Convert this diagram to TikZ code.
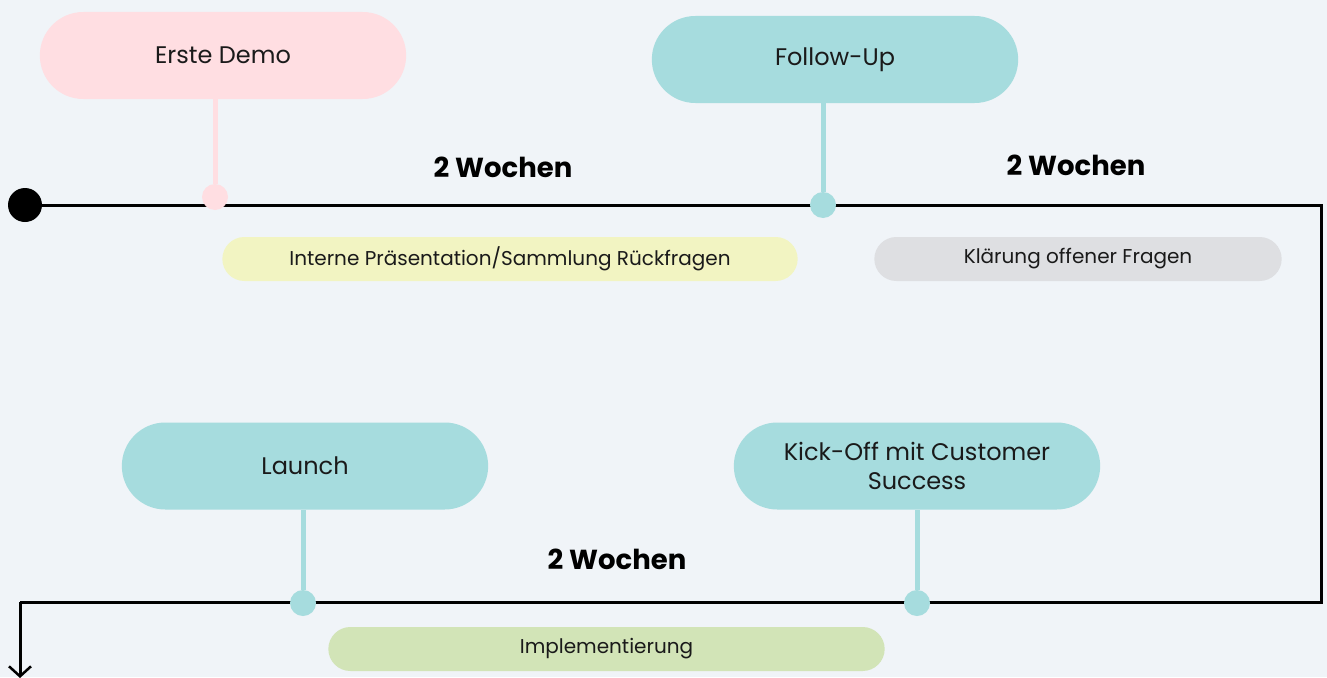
\documentclass[tikz,border=0pt]{standalone}
\usepackage{fontspec}
\setmainfont{Poppins}
\usetikzlibrary{arrows.meta,shapes.misc}
\definecolor{bgcol}{HTML}{F0F4F8}
\definecolor{pinkcol}{HTML}{FFDEE2}
\definecolor{tealcol}{HTML}{A6DCDE}
\definecolor{yellowcol}{HTML}{F2F4C2}
\definecolor{graycol}{HTML}{DEDFE2}
\definecolor{greencol}{HTML}{D2E4B7}
\definecolor{inkcol}{HTML}{1A1A1A}

\begin{document}
\begin{tikzpicture}[x=1pt,y=-1pt,
    pill/.style={rounded rectangle, minimum width=373pt, minimum height=87pt,
        text=inkcol, align=center, font=\fontsize{24}{29}\selectfont},
    bar/.style={rounded rectangle, minimum height=44pt, text=inkcol,
        font=\fontsize{20}{24}\selectfont},
    dot/.style={circle, inner sep=0pt, minimum size=26pt},
    span/.style={font=\bfseries\fontsize{27.5}{32}\selectfont},
    stem/.style={line width=5pt},
    line/.style={line width=3pt, line join=miter}]
    \fill[bgcol] (0,0) rectangle (1327,677);
    \useasboundingbox (0,0) rectangle (1327,677);

    % timeline
    \node[circle, fill=black, inner sep=0pt, minimum size=34pt] (start) at (25,205) {};
    \coordinate (ne) at (1321,204);
    \coordinate (se) at (1321,602);
    \coordinate (sw) at (20,602);
    \coordinate (end) at (20,678);
    \draw[line] (start.center) -- (start.center -| ne) -- (ne) -- (se) -- (sw);
    \draw[line, -{Straight Barb[length=10pt, width=22pt, line width=2.5pt]}] (sw) -- (end);

    % milestones
    \node[pill, fill=pinkcol] (demo) at (223,55.5) {Erste Demo};
    \node[pill, fill=tealcol] (follow) at (835,59.5) {Follow-Up};
    \node[pill, fill=tealcol] (launch) at (305,466) {Launch};
    \node[pill, fill=tealcol] (kickoff) at (917,466) {Kick-Off mit Customer\\Success};

    \node[dot, fill=pinkcol] (d1) at (215,197) {};
    \node[dot, fill=tealcol] (d2) at (823,205) {};
    \node[dot, fill=tealcol] (d3) at (303,603) {};
    \node[dot, fill=tealcol] (d4) at (917,603) {};

    \draw[stem, pinkcol] (d1) -- (d1 |- demo.south);
    \draw[stem, tealcol] (d2) -- (d2 |- follow.south);
    \draw[stem, tealcol] (d3) -- (d3 |- launch.south);
    \draw[stem, tealcol] (d4) -- (d4 |- kickoff.south);

    % phases
    \node[bar, fill=yellowcol, minimum width=582pt] (intern) at (510,259)
        {Interne Präsentation/Sammlung Rückfragen};
    \node[bar, fill=graycol, minimum width=414pt] (klaer) at (1078,259)
        {Klärung offener Fragen};
    \node[bar, fill=greencol, minimum width=563pt] (impl) at (606.5,649)
        {Implementierung};

    \node[span] (w1) at (503,167) {2 Wochen};
    \node[span] (w2) at (1076,165) {2 Wochen};
    \node[span] (w3) at (617,559) {2 Wochen};
\end{tikzpicture}
\end{document}
